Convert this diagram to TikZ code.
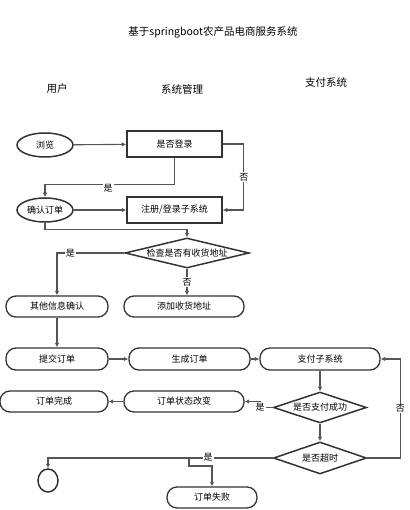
\documentclass[tikz,border=0pt]{standalone}
\usepackage{fontspec}
\newfontfamily\cjk{Noto Sans CJK SC}
\usetikzlibrary{shapes.geometric,arrows.meta}
\definecolor{linegray}{HTML}{555555}
\definecolor{boxgray}{HTML}{333333}
\begin{document}
\begin{tikzpicture}[x=1pt, y=-1pt,
    every node/.style={font=\cjk\fontsize{9}{11}\selectfont, text=black, inner sep=1pt},
    lane/.style={font=\cjk\fontsize{10.5}{12}\selectfont},
    oval/.style={ellipse, draw=boxgray, line width=1.5pt, minimum width=56pt, minimum height=24pt},
    box/.style={rectangle, draw=boxgray, line width=1.5pt, minimum width=95pt, minimum height=26pt},
    pill/.style={rectangle, rounded corners=10pt, draw=boxgray, line width=1.3pt, minimum height=21pt},
    choice/.style={diamond, draw=boxgray, line width=1.5pt, inner sep=0pt},
    stopnode/.style={ellipse, draw=boxgray, line width=1.5pt, minimum width=20pt, minimum height=23pt},
    line/.style={draw=linegray, line width=1.1pt, -{Latex[length=4.5pt,width=4.5pt]}},
    tag/.style={fill=white, inner sep=1pt}
]
\useasboundingbox (0,0) rectangle (409,510);

% titles
\node[lane] (title) at (213,32) {基于springboot农产品电商服务系统};
\node[lane] (user) at (57,89) {用户};
\node[lane] (mgmt) at (182,89) {系统管理};
\node[lane] (paysys) at (326,83) {支付系统};

% login
\node[oval] (browse) at (45,145) {浏览};
\node[box] (login) at (174.5,144) {是否登录};
\node[oval] (confirm) at (45,210) {确认订单};
\node[box] (reg) at (174.5,210) {注册/登录子系统};

\draw[line] (browse) -- (login);
\draw[line] (confirm) -- (reg);
\draw[line] (login.east) -- ++(21,0) |- node[tag, pos=0.25] {否} (reg.east);
\draw[line] (login.south) -- ++(0,27) -| (confirm.north);
\node[tag] (yes1) at (108,188) {是};

% address
\node[choice, aspect=4.1, minimum width=124pt, minimum height=30pt] (check) at (187,253) {检查是否有收货地址};
\node[pill, minimum width=102pt] (other) at (57,306.5) {其他信息确认};
\node[pill, minimum width=120pt] (addr) at (184,306.5) {添加收货地址};

\draw[line] (confirm.south) -- ++(0,7) -| (check.north);
\draw[line] (check.west) -| node[tag, pos=0.4] {是} (other.north);
\draw[line] (check.south) -- node[tag] {否} (check.south |- addr.north);

% order
\node[pill, minimum width=102pt, minimum height=22pt] (submit) at (57,359) {提交订单};
\node[pill, minimum width=121pt, minimum height=22pt] (gen) at (189.5,359) {生成订单};
\node[pill, minimum width=120pt, minimum height=22pt] (pay) at (320,359) {支付子系统};

\draw[line] (other) -- (submit);
\draw[line] (submit) -- (gen);
\draw[line] (gen) -- (pay);

% payment
\node[choice, aspect=3, minimum width=93pt, minimum height=31pt] (paid) at (320,407.5) {是否支付成功};
\node[pill, minimum width=120pt] (status) at (184,401.5) {订单状态改变};
\node[pill, minimum width=108pt] (done) at (54,401.5) {订单完成};
\node[choice, aspect=2.9, minimum width=93pt, minimum height=32pt] (timeout) at (320,458) {是否超时};
\node[stopnode] (stop) at (48,480.5) {};
\node[pill, minimum width=90pt] (fail) at (212,497.5) {订单失败};

\draw[line] (pay) -- (paid);
\draw[line] (paid) -- (timeout);
\draw[line] (paid.west) -- ++(-12,0) |- (status.east);
\node[tag] (yes3) at (260,407) {是};
\draw[line] (status) -- (done);
\draw[line] (timeout.east) -- ++(33,0) |- node[tag, pos=0.25] {否} (pay.east);
\draw[line] (timeout.west) -| (stop.north);
\coordinate (split) at (189,458);
\draw[line] (split) -- ++(0,8) -| (fail.north);
\node[tag] (yes4) at (208,457) {是};

\end{tikzpicture}
\end{document}
